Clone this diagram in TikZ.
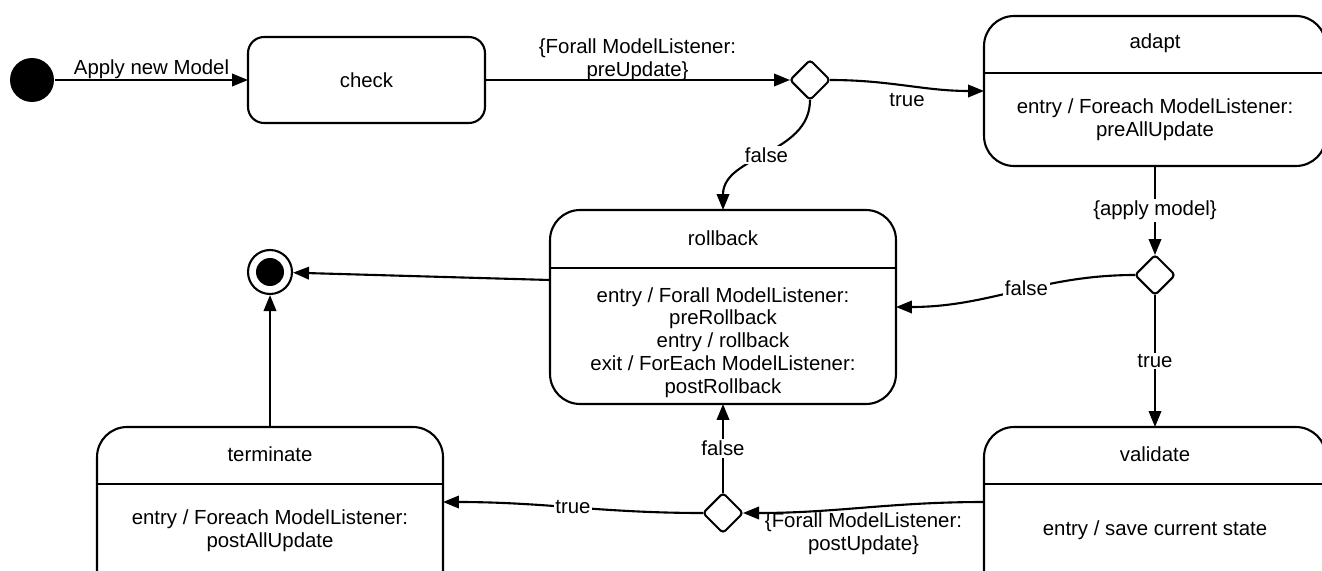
\documentclass[tikz,border=0pt]{standalone}
\usepackage{fontspec}
\setmainfont{Liberation Sans}
\usetikzlibrary{arrows.meta,shapes.geometric}

\begin{document}
\begin{tikzpicture}[x=0.02cm,y=-0.02cm,line width=1.2pt,
  font=\fontsize{11.6}{13}\selectfont,
  >={Triangle[length=0.32cm,width=0.25cm]},
  state/.style={shape=rectangle, rounded corners=0.6cm, draw, outer sep=0pt, minimum width=6.92cm, minimum height=3.88cm},
  choice/.style={shape=diamond, draw, rounded corners=2pt, minimum size=0.8cm, inner sep=0pt, outer sep=0pt},
  lbl/.style={fill=white, inner sep=1pt}]
\useasboundingbox (0,0) rectangle (1322,571);
\clip (0,0) rectangle (1322,571);

% states
\path (32,80) node (init) [shape=circle, fill, minimum size=0.88cm, inner sep=0pt] {};
\path (366.5,80) node (check) [state, rounded corners=0.32cm, minimum width=4.74cm, minimum height=1.72cm] {check};
\path (810,80) node (c1) [choice] {};

\path (1155,91) node (adapt) [state, minimum width=6.84cm, minimum height=3cm] {};
\path (1155,43) node (adaptname) {adapt};
\path (1155,120) node (adaptdo) [align=center] {entry / Foreach ModelListener:\\preAllUpdate};
\draw (adapt.west |- 0,73) -- (adapt.east |- 0,73);

\path (723,307) node (rollback) [state] {};
\path (723,238) node (rollbackname) {rollback};
\path (723,342.5) node (rollbackdo) [align=center] {entry / Forall ModelListener:\\preRollback\\entry / rollback\\exit / ForEach ModelListener:\\postRollback};
\draw (rollback.west |- 0,268) -- (rollback.east |- 0,268);

\path (270,272) node (final) [shape=circle, draw, minimum size=0.88cm, inner sep=0pt] {};
\path (270,272) node (finaldot) [shape=circle, fill, minimum size=0.56cm, inner sep=0pt] {};

\path (1155,275) node (c2) [choice] {};

\path (1155,524) node (validate) [state, minimum width=6.84cm] {};
\path (1155,454) node (validatename) {validate};
\path (1155,530) node (validatedo) {entry / save current state};
\draw (validate.west |- 0,484) -- (validate.east |- 0,484);

\path (723,513) node (c3) [choice] {};

\path (270,524) node (terminate) [state] {};
\path (270,454) node (terminatename) {terminate};
\path (270,531) node (terminatedo) [align=center] {entry / Foreach ModelListener:\\postAllUpdate};
\draw (terminate.west |- 0,484) -- (terminate.east |- 0,484);

% transitions
\draw [->] (init) to node [above, inner sep=0pt] {Apply new Model} (check);
\draw [->] (check) to node [yshift=0.40cm, align=center] {\{Forall ModelListener:\\preUpdate\}} (c1);
\draw [->] (c1) to [out=0, in=180] node [below, inner sep=4pt] {true} (adapt.west);
\draw [->] (c1) to [out=-90, in=90] node [lbl] {false} (rollback.north);
\draw [->] ([yshift=0.54cm]rollback.west) to (final);
\draw [->] (adapt) to node [lbl] {\{apply model\}} (c2);
\draw [->] (c2) to [out=180, in=0] node [lbl, pos=0.45] {false} (rollback.east);
\draw [->] (c2) to node [lbl] {true} (validate);
\draw [->] ([yshift=0.44cm]validate.west) to [out=180, in=0] node [yshift=-0.53cm, align=center] {\{Forall ModelListener:\\postUpdate\}} (c3);
\draw [->] (c3) to node [lbl] {false} (rollback);
\draw [->] (c3) to [out=180, in=0] node [lbl] {true} ([yshift=0.44cm]terminate.east);
\draw [->] (terminate) to (final);

\end{tikzpicture}
\end{document}
